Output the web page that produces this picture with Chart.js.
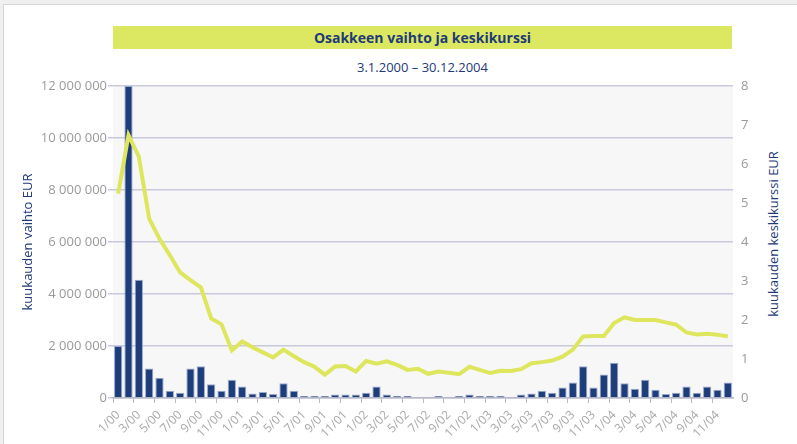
<!DOCTYPE html>
<html>
<head>
<meta charset="utf-8">
<script src="https://cdn.jsdelivr.net/npm/chart.js@4.4.1/dist/chart.umd.min.js"></script>
<style>
  html, body { margin:0; padding:0; width:797px; height:444px; overflow:hidden; background:#efefef; font-family:"Open Sans", sans-serif; }
  #card { position:absolute; left:3px; top:4px; width:820px; height:460px; background:#fff; border:1px solid #d6d6d6; box-sizing:border-box; }
  #title { position:absolute; left:113px; top:26px; width:619px; height:23px; background:#dde862; color:#1e3a78; font-weight:bold; font-size:14px; line-height:23px; text-align:center; }
  #subtitle { position:absolute; left:113px; top:57px; width:619px; color:#1e3a78; font-size:13px; line-height:20px; text-align:center; }
  #rtitle { position:absolute; left:773px; top:234px; transform:translate(-50%,-50%) rotate(-90deg); white-space:nowrap; color:#1e3a78; font-size:13px; }
  .leg { position:absolute; left:591px; width:22px; height:7px; }
  .legt { position:absolute; left:622px; color:#9a9a9a; font-size:13px; line-height:16px; }
  canvas { position:absolute; left:0; top:0; }
</style>
</head>
<body>
<div id="card"></div>
<div id="title">Osakkeen vaihto ja keskikurssi</div>
<div id="subtitle">3.1.2000 – 30.12.2004</div>
<div class="leg" style="top:148px;background:#dde65c;"></div>
<div class="legt" style="top:144px;">keskikurssi</div>
<div class="leg" style="top:167px;background:#1e3d7b;"></div>
<div class="legt" style="top:163px;">vaihto EUR</div>
<div id="rtitle">kuukauden keskikurssi EUR</div>
<canvas id="c" width="797" height="444"></canvas>
<script>
// Categories: months 1/00 .. 12/04
const months = [
  "1/00","2/00","3/00","4/00","5/00","6/00","7/00","8/00","9/00","10/00","11/00","12/00",
  "1/01","2/01","3/01","4/01","5/01","6/01","7/01","8/01","9/01","10/01","11/01","12/01",
  "1/02","2/02","3/02","4/02","5/02","6/02","7/02","8/02","9/02","10/02","11/02","12/02",
  "1/03","2/03","3/03","4/03","5/03","6/03","7/03","8/03","9/03","10/03","11/03","12/03",
  "1/04","2/04","3/04","4/04","5/04","6/04","7/04","8/04","9/04","10/04","11/04","12/04"
];
// Monthly turnover, EUR
const volume = [
  2000000, 12000000, 4550000, 1130000, 780000, 280000, 200000, 1130000, 1220000, 530000, 280000, 700000,
  440000, 170000, 230000, 155000, 570000, 280000, 80000, 80000, 80000, 130000, 130000, 130000,
  200000, 440000, 130000, 80000, 80000, 0, 0, 80000, 0, 80000, 130000, 80000,
  80000, 80000, 0, 130000, 170000, 280000, 200000, 400000, 600000, 1220000, 400000, 900000,
  1360000, 570000, 360000, 700000, 320000, 155000, 200000, 440000, 200000, 440000, 320000, 600000
];
// Monthly average price, EUR
const avgPrice = [
  5.24, 6.74, 6.19, 4.60, 4.08, 3.66, 3.22, 3.02, 2.84, 2.04, 1.89, 1.22,
  1.45, 1.30, 1.17, 1.04, 1.24, 1.07, 0.92, 0.80, 0.60, 0.81, 0.82, 0.68,
  0.95, 0.88, 0.94, 0.85, 0.72, 0.75, 0.62, 0.68, 0.65, 0.61, 0.80, 0.72,
  0.64, 0.70, 0.69, 0.74, 0.89, 0.92, 0.96, 1.06, 1.24, 1.58, 1.59, 1.59,
  1.92, 2.07, 2.00, 2.00, 2.00, 1.94, 1.88, 1.68, 1.63, 1.65, 1.62, 1.58
];
const leftTicks = { min: 0, max: 12000000, step: 2000000 };
const rightTicks = { min: 0, max: 8, step: 1 };

function fmt(v) { return String(v).replace(/\B(?=(\d{3})+(?!\d))/g, ' '); }

const plotBg = {
  id: 'plotBg',
  beforeDraw(chart) {
    const {ctx, chartArea: a} = chart;
    ctx.save();
    ctx.fillStyle = '#f7f7f7';
    ctx.fillRect(a.left, a.top, a.right - a.left, a.bottom - a.top);
    ctx.restore();
  }
};

const tickColor = '#9a9a9a';
new Chart(document.getElementById('c'), {
  data: {
    labels: months,
    datasets: [
      { type: 'line', label: 'keskikurssi', data: avgPrice, yAxisID: 'y1',
        borderColor: '#dde65c', borderWidth: 4, pointRadius: 0, tension: 0, order: 0 },
      { type: 'bar', label: 'vaihto EUR', data: volume, yAxisID: 'y',
        backgroundColor: '#1e3d7b', borderColor: '#9aa8cc',
        borderWidth: {top: 1, left: 1, right: 1, bottom: 0},
        barPercentage: 0.8, categoryPercentage: 1, order: 1 }
    ]
  },
  options: {
    responsive: false, animation: false,
    layout: { padding: { left: 10, top: 86, right: 0, bottom: 0 } },
    plugins: { legend: { display: false }, tooltip: { enabled: false } },
    scales: {
      x: {
        offset: true,
        grid: { offset: true, drawOnChartArea: false, drawTicks: true, tickLength: 5,
                color: c => (c.index % 2 === 0 ? '#b8b8c8' : 'rgba(0,0,0,0)'), lineWidth: 1 },
        border: { display: true, color: '#b8b8c8', width: 1.5 },
        ticks: { autoSkip: false, minRotation: 45, maxRotation: 45, color: '#a8a8a8',
                 font: { family: 'Open Sans', size: 12 }, padding: 5,
                 callback: (v, i) => (i % 2 === 0 ? months[i] : '') },
        afterFit: s => { s.height = 46; }
      },
      y: {
        position: 'left', min: leftTicks.min, max: leftTicks.max,
        ticks: { stepSize: leftTicks.step, callback: v => fmt(v), color: tickColor,
                 font: { family: 'Open Sans', size: 13 }, padding: 1 },
        grid: { color: '#c9c9dd', lineWidth: 1.5, tickLength: 5, drawTicks: true },
        border: { display: false },
        title: { display: true, text: 'kuukauden vaihto EUR', color: '#1e3a78',
                 font: { family: 'Open Sans', size: 13 }, padding: { top: 10, bottom: 0 } },
        afterFit: s => { s.width = 103; }
      },
      y1: {
        position: 'right', min: rightTicks.min, max: rightTicks.max,
        ticks: { stepSize: rightTicks.step, color: tickColor,
                 font: { family: 'Open Sans', size: 13 }, padding: 8 },
        grid: { drawOnChartArea: false, drawTicks: false },
        border: { display: false },
        afterFit: s => { s.width = 64; }
      }
    }
  },
  plugins: [plotBg]
});
</script>
</body>
</html>
